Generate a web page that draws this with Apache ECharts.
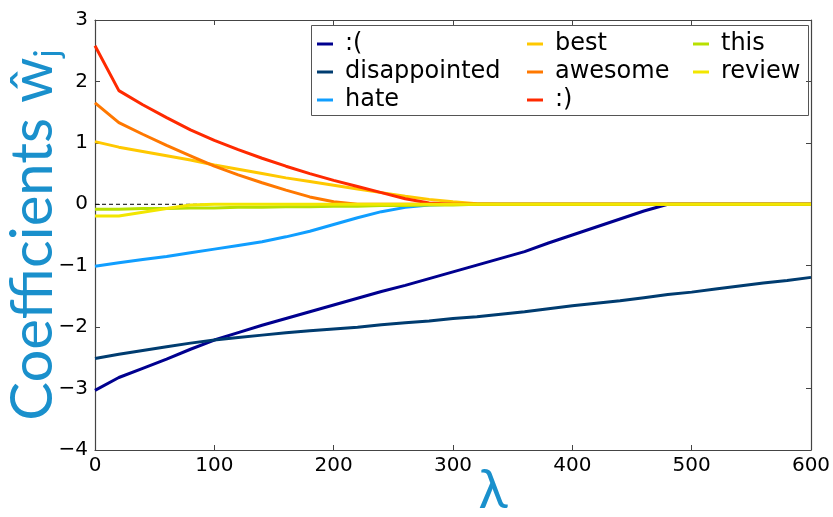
<!DOCTYPE html>
<html>
<head>
<meta charset="utf-8">
<script src="https://cdn.jsdelivr.net/npm/echarts@6/dist/echarts.min.js"></script>
<style>
  html, body { margin: 0; padding: 0; background: #fff; }
  #chart { width: 833px; height: 517px; }
</style>
</head>
<body>
<div id="chart"></div>
<script>
// Regularisation path: coefficient value of each word vs. lambda
const lambdas = [0, 20, 40, 60, 80, 100, 120, 140, 160, 180, 200, 220, 240, 260, 280, 300,
                 320, 340, 360, 380, 400, 420, 440, 460, 480, 500, 520, 540, 560, 580, 600];

const frown = [-3.03, -2.82, -2.67, -2.52, -2.36, -2.21, -2.09, -1.97, -1.86, -1.75, -1.64,
               -1.53, -1.42, -1.32, -1.21, -1.10, -0.99, -0.88, -0.77, -0.63, -0.50, -0.37,
               -0.24, -0.11, 0, 0, 0, 0, 0, 0, 0];
const disappointed = [-2.51, -2.44, -2.38, -2.32, -2.26, -2.21, -2.17, -2.13, -2.09, -2.06, -2.03,
                      -2.00, -1.96, -1.93, -1.90, -1.86, -1.83, -1.79, -1.75, -1.70, -1.65, -1.61,
                      -1.57, -1.52, -1.47, -1.43, -1.38, -1.33, -1.28, -1.24, -1.19];
const hate = [-1.01, -0.95, -0.90, -0.85, -0.79, -0.73, -0.67, -0.61, -0.53, -0.44, -0.33,
              -0.22, -0.12, -0.05, -0.01, 0, 0, 0, 0, 0, 0, 0, 0, 0, 0, 0, 0, 0, 0, 0, 0];
const best = [1.02, 0.93, 0.86, 0.79, 0.72, 0.64, 0.57, 0.50, 0.43, 0.37, 0.31, 0.25, 0.19,
              0.13, 0.08, 0.04, 0.01, 0, 0, 0, 0, 0, 0, 0, 0, 0, 0, 0, 0, 0, 0];
const awesome = [1.65, 1.33, 1.14, 0.96, 0.79, 0.62, 0.48, 0.35, 0.23, 0.12, 0.04, 0, 0, 0, 0,
                 0, 0, 0, 0, 0, 0, 0, 0, 0, 0, 0, 0, 0, 0, 0, 0];
const smile = [2.58, 1.85, 1.62, 1.41, 1.21, 1.04, 0.89, 0.75, 0.62, 0.50, 0.39, 0.29, 0.19,
               0.09, 0.02, 0, 0, 0, 0, 0, 0, 0, 0, 0, 0, 0, 0, 0, 0, 0, 0];
const thisWord = [-0.08, -0.08, -0.07, -0.07, -0.06, -0.06, -0.05, -0.05, -0.04, -0.04, -0.03,
                  -0.03, -0.02, -0.02, -0.01, -0.01, 0, 0, 0, 0, 0, 0, 0, 0, 0, 0, 0, 0, 0, 0, 0];
const review = [-0.19, -0.19, -0.13, -0.07, -0.01, 0, 0, 0, 0, 0, 0, 0, 0, 0, 0, 0, 0, 0, 0, 0,
                0, 0, 0, 0, 0, 0, 0, 0, 0, 0, 0];

const zeroLine = [[0, 0], [600, 0]];
const xTicks = [0, 100, 200, 300, 400, 500, 600];
const yTicks = [-4, -3, -2, -1, 0, 1, 2, 3];

const words = [
  { name: ':(',           values: frown,        color: '#00008f' },
  { name: 'disappointed', values: disappointed, color: '#003c70' },
  { name: 'hate',         values: hate,         color: '#109eff' },
  { name: 'best',         values: best,         color: '#ffc800' },
  { name: 'awesome',      values: awesome,      color: '#ff7800' },
  { name: ':)',           values: smile,        color: '#ff2a00' },
  { name: 'this',         values: thisWord,     color: '#b8e000' },
  { name: 'review',       values: review,       color: '#f2e600' }
];

const labelFont = 'DejaVu Sans';
const accent = '#1a90cc';
const frameColor = '#444';

const chart = echarts.init(document.getElementById('chart'), null, { renderer: 'canvas' });

const wordSeries = words.map(w => ({
  name: w.name,
  type: 'line',
  data: lambdas.map((l, i) => [l, w.values[i]]),
  showSymbol: false,
  symbol: 'none',
  lineStyle: { color: w.color, width: 3 },
  itemStyle: { color: w.color },
  animation: false
}));

function legendColumn(names, left) {
  return {
    orient: 'vertical',
    left: left,
    top: 32,
    itemGap: 4,
    itemWidth: 16,
    itemHeight: 3,
    icon: 'rect',
    padding: 0,
    data: names,
    textStyle: { fontFamily: labelFont, fontSize: 24, color: '#000', padding: [0, 0, 0, 7] },
    selectedMode: false
  };
}

const axisCommon = {
  axisLine: { show: true, onZero: false, lineStyle: { color: frameColor, width: 1.2 } },
  axisTick: { show: true, inside: true, length: 5, lineStyle: { color: frameColor, width: 1 } },
  splitLine: { show: false }
};

const option = {
  backgroundColor: '#fff',
  animation: false,
  grid: { left: 95, right: 22, top: 20, bottom: 67, containLabel: false, outerBoundsMode: 'none' },
  legend: [
    legendColumn([':(', 'disappointed', 'hate'], 317),
    legendColumn(['best', 'awesome', ':)'], 527),
    legendColumn(['this', 'review'], 693)
  ],
  graphic: [{
    type: 'rect',
    shape: { x: 311.5, y: 25.5, width: 497, height: 90 },
    style: { fill: 'rgba(0,0,0,0)', stroke: '#555', lineWidth: 1 },
    z: 100,
    silent: true
  }],
  xAxis: [
    Object.assign({
      type: 'value', min: 0, max: 600, interval: 100, position: 'bottom',
      name: 'λ', nameLocation: 'middle', nameGap: 14, nameMoveOverlap: false,
      nameTextStyle: { fontFamily: 'Lato', fontSize: 54, color: accent, padding: [0, 0, 0, 80] },
      axisLabel: {
        fontFamily: labelFont, fontSize: 20, color: '#000', margin: 6,
        formatter: v => xTicks.includes(v) ? String(v) : ''
      }
    }, axisCommon),
    Object.assign({
      type: 'value', min: 0, max: 600, interval: 100, position: 'top',
      axisLabel: { show: false }
    }, axisCommon)
  ],
  yAxis: [
    Object.assign({
      type: 'value', min: -4, max: 3, interval: 1, position: 'left',
      name: 'Coefficients ŵ{sub|j}', nameLocation: 'middle', nameGap: 30, nameMoveOverlap: false,
      nameTextStyle: {
        fontFamily: 'Lato', fontSize: 58, color: accent, lineHeight: 64,
        rich: { sub: { fontFamily: 'Lato', fontSize: 34, color: accent, verticalAlign: 'bottom', lineHeight: 2 } }
      },
      axisLabel: {
        fontFamily: labelFont, fontSize: 20, color: '#000', margin: 7,
        formatter: v => yTicks.includes(v) ? String(v).replace('-', '\u2212') : ''
      }
    }, axisCommon),
    Object.assign({
      type: 'value', min: -4, max: 3, interval: 1, position: 'right',
      axisLabel: { show: false }
    }, axisCommon)
  ],
  series: [{
    name: 'zero',
    type: 'line',
    data: zeroLine,
    showSymbol: false,
    symbol: 'none',
    lineStyle: { color: '#000', width: 1, type: [4, 3] },
    silent: true,
    animation: false
  }].concat(wordSeries)
};

chart.setOption(option);
</script>
</body>
</html>
